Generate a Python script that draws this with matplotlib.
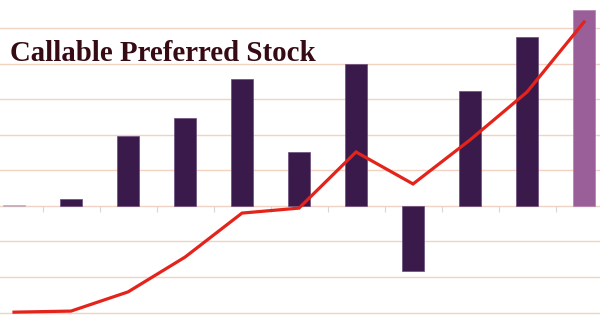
import matplotlib
matplotlib.use("Agg")
import matplotlib.pyplot as plt
import numpy as np

# Data (units = gridline steps)
periods = list(range(11))
bar_values = [0.03, 0.2, 1.97, 2.48, 3.58, 1.52, 4.0, -1.83, 3.24, 4.76, 5.52]
line_values = [-2.99, -2.96, -2.42, -1.44, -0.2, -0.06, 1.52, 0.62, 1.86, 3.21, 5.18]
bar_colors = ["#a88a98"] + ["#3a1a4b"] * 9 + ["#9a5e98"]
title = "Callable Preferred Stock"

fig = plt.figure(figsize=(6.0, 3.15), dpi=100)
ax = fig.add_axes([0, 0, 1, 1])

ax.set_xlim(-0.2456, 10.28)
ax.set_ylim(-3.07, 5.80)

ax.set_yticks(range(-3, 6))
ax.yaxis.grid(True, color="#f2d3c2", linewidth=1.0)
ax.set_axisbelow(True)

ax.bar(periods, bar_values, width=0.4, color=bar_colors,
       edgecolor=["#c9b0c0"] + ["#6a4a7a"] * 9 + ["#b27fb0"], linewidth=0.5, zorder=2)
ax.plot(periods, line_values, color="#e4231b", linewidth=2.3, zorder=3,
        solid_joinstyle="miter")

for s in ["top", "left", "right"]:
    ax.spines[s].set_visible(False)
ax.spines["bottom"].set_position(("data", 0))
ax.spines["bottom"].set_color("#efd3c6")
ax.spines["bottom"].set_zorder(1)
ax.set_xticks([])
ax.set_xticks(np.arange(0.5, 10.5, 1.0), minor=True)
ax.tick_params(axis="x", which="minor", direction="out", length=4, color="#ddd5d5", width=0.8)
ax.tick_params(axis="y", length=0, labelleft=False)

fig.text(10 / 600, 1 - 61 / 315, title, family="Liberation Serif", weight="bold",
         fontsize=20.8, color="#360b14", ha="left", va="baseline", zorder=5)

fig.savefig("out.png", dpi=100)
